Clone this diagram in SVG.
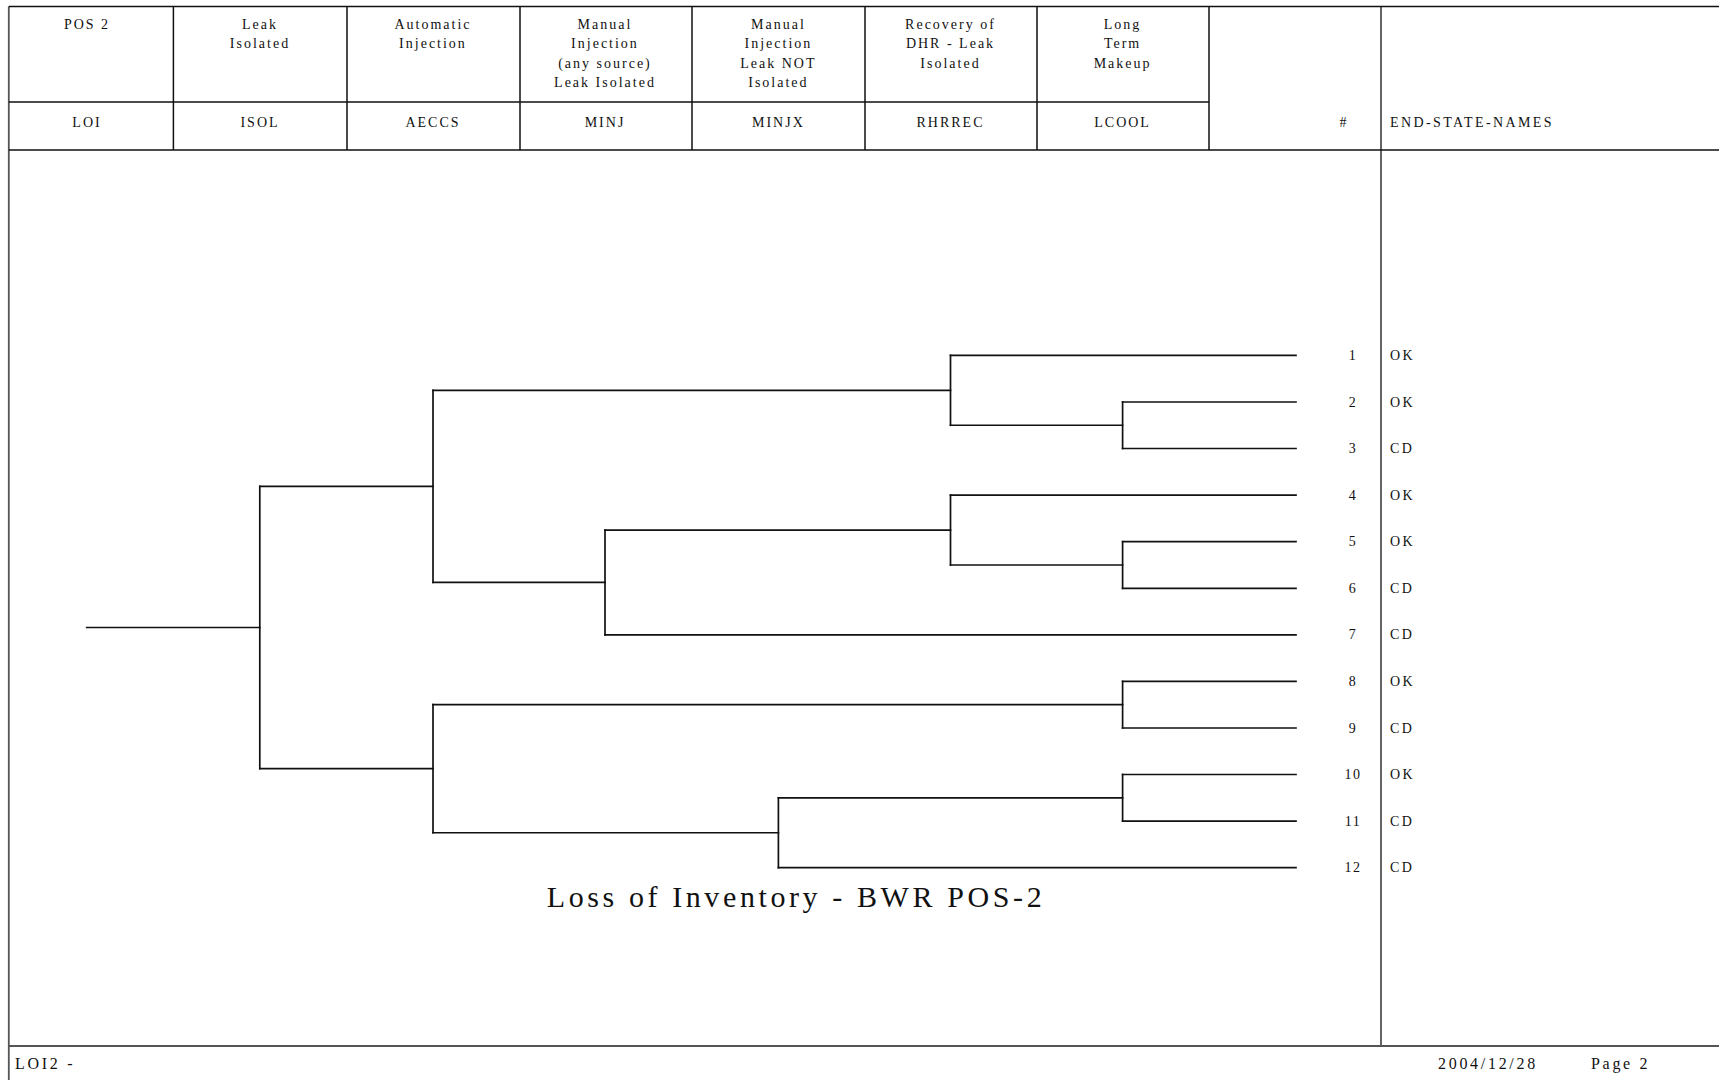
<svg xmlns="http://www.w3.org/2000/svg" width="1719" height="1080" viewBox="0 0 1719 1080">
<style>
text{font-family:"Liberation Serif","Times New Roman",serif;fill:#111}
.h{font-size:14px;letter-spacing:2px;text-anchor:middle}
.n{font-size:14px;letter-spacing:1.5px;text-anchor:middle}
.e{font-size:14px;letter-spacing:2.4px}
.f{font-size:16px;letter-spacing:2.7px}
.t{font-size:30px;letter-spacing:3.6px;text-anchor:middle}
.g{stroke:#111;stroke-width:1.5;fill:none}
.b{stroke:#555;stroke-width:1.8;fill:none}
.w{stroke:#111;stroke-width:1.7;fill:none;stroke-linecap:square}
</style>
<rect width="1719" height="1080" fill="#fff"/>
<g id="frame">
<path class="b" d="M8.8 6.6V1080M1381 6.6V1046M8.8 1046H1719"/>
<path class="g" d="M8.8 6.6H1719M8.8 150H1719M8.8 102H1209M173.4 6.6V150M347 6.6V150M520 6.6V150M692 6.6V150M865 6.6V150M1037 6.6V150M1209 6.6V150"/>
</g>
<g id="col-LOI"><text class="h" x="87" y="28.5">POS 2</text><text class="h" x="87" y="127">LOI</text></g>
<g id="col-ISOL"><text class="h" x="260" y="28.5">Leak</text><text class="h" x="260" y="48">Isolated</text><text class="h" x="260" y="127">ISOL</text></g>
<g id="col-AECCS"><text class="h" x="433" y="28.5">Automatic</text><text class="h" x="433" y="48">Injection</text><text class="h" x="433" y="127">AECCS</text></g>
<g id="col-MINJ"><text class="h" x="605" y="28.5">Manual</text><text class="h" x="605" y="48">Injection</text><text class="h" x="605" y="67.5">(any source)</text><text class="h" x="605" y="87">Leak Isolated</text><text class="h" x="605" y="127">MINJ</text></g>
<g id="col-MINJX"><text class="h" x="778.4" y="28.5">Manual</text><text class="h" x="778.4" y="48">Injection</text><text class="h" x="778.4" y="67.5">Leak NOT</text><text class="h" x="778.4" y="87">Isolated</text><text class="h" x="778.4" y="127">MINJX</text></g>
<g id="col-RHRREC"><text class="h" x="950.5" y="28.5">Recovery of</text><text class="h" x="950.5" y="48">DHR - Leak</text><text class="h" x="950.5" y="67.5">Isolated</text><text class="h" x="950.5" y="127">RHRREC</text></g>
<g id="col-LCOOL"><text class="h" x="1122.6" y="28.5">Long</text><text class="h" x="1122.6" y="48">Term</text><text class="h" x="1122.6" y="67.5">Makeup</text><text class="h" x="1122.6" y="127">LCOOL</text></g>
<g id="col-num"><text class="h" x="1344" y="127">#</text></g>
<g id="col-names"><text class="e" x="1390" y="127">END-STATE-NAMES</text></g>

<g id="connectors" class="w">
<path d="M86.7 627.5H259.8"/>
<path d="M259.8 486.35H433M259.8 768.7H433"/>
<path d="M433 390.3H950.5M433 582.4H605"/>
<path d="M950.5 355.4H1296M950.5 425.25H1122.6"/>
<path d="M1122.6 402H1296M1122.6 448.5H1296"/>
<path d="M605 530.05H950.5M605 634.8H1296"/>
<path d="M950.5 495.1H1296M950.5 565H1122.6"/>
<path d="M1122.6 541.7H1296M1122.6 588.3H1296"/>
<path d="M433 704.7H1122.6M433 832.75H778.4"/>
<path d="M1122.6 681.4H1296M1122.6 728H1296"/>
<path d="M778.4 797.8H1122.6M778.4 867.7H1296"/>
<path d="M1122.6 774.5H1296M1122.6 821.1H1296"/>
</g>
<g id="node-K" class="w"><path d="M259.8 486.35V768.7"/></g>
<g id="node-F" class="w"><path d="M433 390.3V582.4"/></g>
<g id="node-J" class="w"><path d="M433 704.7V832.75"/></g>
<g id="node-E" class="w"><path d="M605 530.05V634.8"/></g>
<g id="node-I" class="w"><path d="M778.4 797.8V867.7"/></g>
<g id="node-B" class="w"><path d="M950.5 355.4V425.25"/></g>
<g id="node-D" class="w"><path d="M950.5 495.1V565"/></g>
<g id="node-A" class="w"><path d="M1122.6 402V448.5"/></g>
<g id="node-C" class="w"><path d="M1122.6 541.7V588.3"/></g>
<g id="node-G" class="w"><path d="M1122.6 681.4V728"/></g>
<g id="node-H" class="w"><path d="M1122.6 774.5V821.1"/></g>

<g id="end-1"><text class="n" x="1353" y="360">1</text><text class="e" x="1390" y="360">OK</text></g>
<g id="end-2"><text class="n" x="1353" y="406.6">2</text><text class="e" x="1390" y="406.6">OK</text></g>
<g id="end-3"><text class="n" x="1353" y="453.1">3</text><text class="e" x="1390" y="453.1">CD</text></g>
<g id="end-4"><text class="n" x="1353" y="499.7">4</text><text class="e" x="1390" y="499.7">OK</text></g>
<g id="end-5"><text class="n" x="1353" y="546.3">5</text><text class="e" x="1390" y="546.3">OK</text></g>
<g id="end-6"><text class="n" x="1353" y="592.9">6</text><text class="e" x="1390" y="592.9">CD</text></g>
<g id="end-7"><text class="n" x="1353" y="639.4">7</text><text class="e" x="1390" y="639.4">CD</text></g>
<g id="end-8"><text class="n" x="1353" y="686">8</text><text class="e" x="1390" y="686">OK</text></g>
<g id="end-9"><text class="n" x="1353" y="732.6">9</text><text class="e" x="1390" y="732.6">CD</text></g>
<g id="end-10"><text class="n" x="1353" y="779.1">10</text><text class="e" x="1390" y="779.1">OK</text></g>
<g id="end-11"><text class="n" x="1353" y="825.7">11</text><text class="e" x="1390" y="825.7">CD</text></g>
<g id="end-12"><text class="n" x="1353" y="872.3">12</text><text class="e" x="1390" y="872.3">CD</text></g>

<g id="title"><text class="t" x="796" y="907">Loss of Inventory - BWR POS-2</text></g>
<g id="footer">
<text class="f" x="15" y="1069">LOI2 -</text>
<text class="f" x="1438" y="1069">2004/12/28</text>
<text class="f" x="1591" y="1069">Page 2</text>
</g>
</svg>
